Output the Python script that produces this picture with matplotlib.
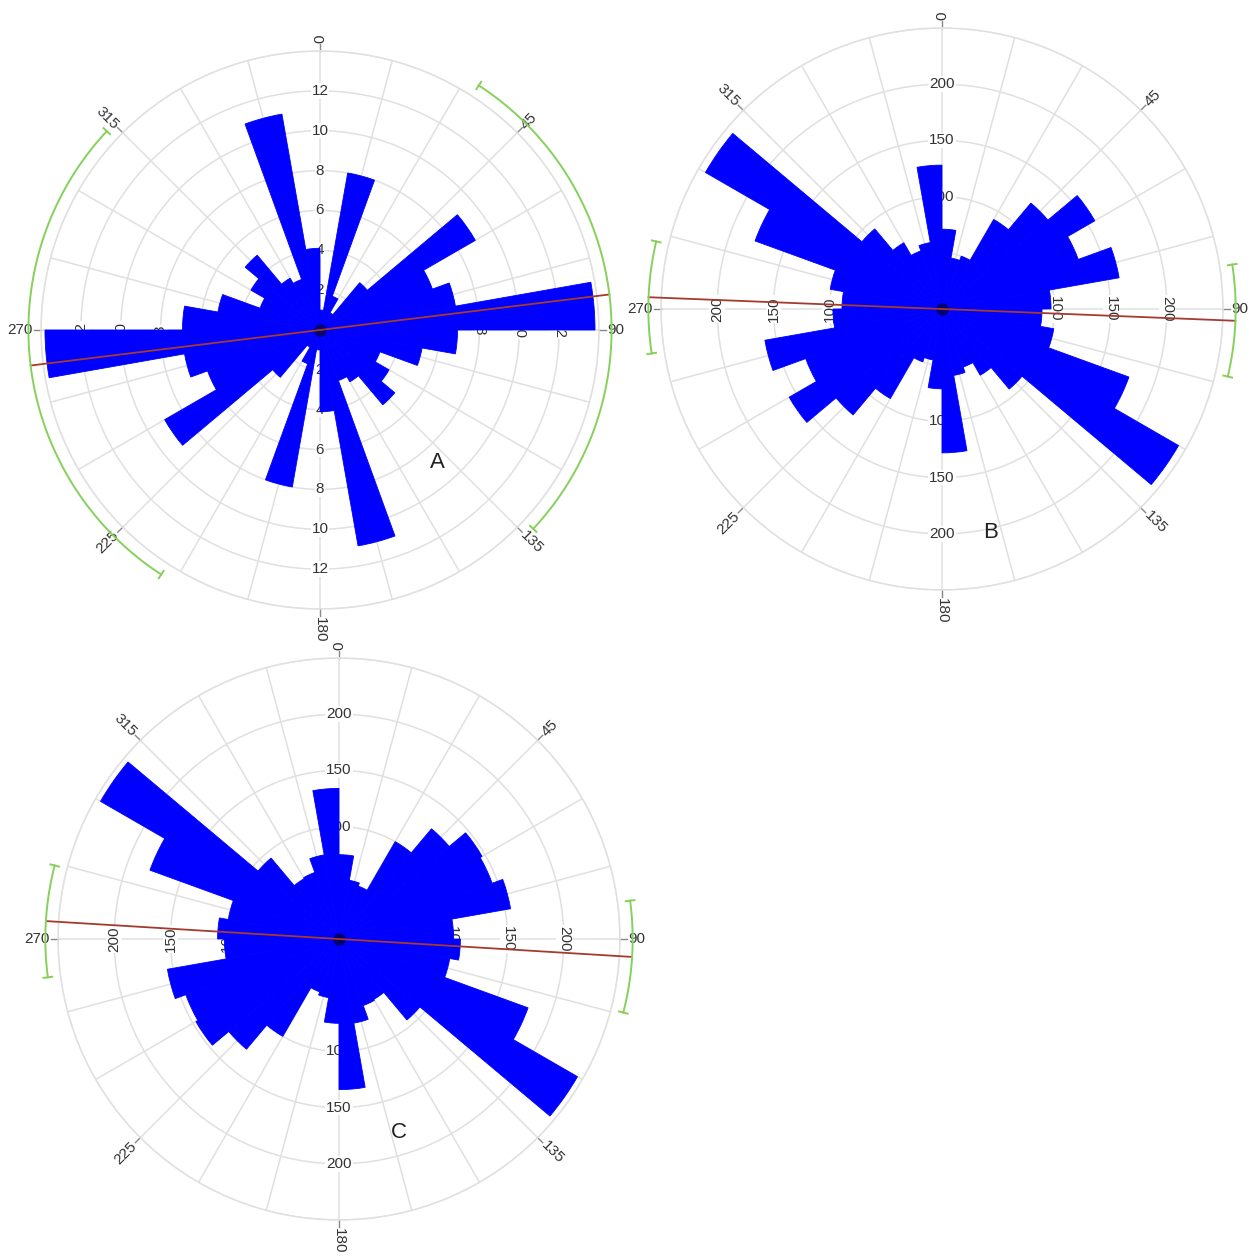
import numpy as np
import matplotlib
matplotlib.use('Agg')
import matplotlib.pyplot as plt

plt.rcParams['font.family'] = ['Liberation Sans', 'DejaVu Sans']

# 10 degree bins from 0 to 180; the roses are bidirectional so 180-360 mirrors them
bin_start = np.arange(0, 180, 10)
counts_a = [1.0, 8.0, 1.8, 1.0, 3.1, 9.0, 6.0, 6.9, 13.8, 6.9, 5.2, 3.2, 4.0, 4.9, 3.0, 2.7, 11.0, 4.1]
counts_b = [71, 46, 50, 92, 123, 157, 129, 160, 97, 89, 101, 177, 243, 93, 68, 55, 60, 128]
counts_c = [75, 53, 50, 100, 128, 147, 145, 155, 102, 108, 100, 179, 245, 94, 62, 63, 76, 134]

# mean direction and confidence half-width (degrees)
mean_a, ci_a = 83, 50
mean_b, ci_b = 92.3, 11
mean_c, ci_c = 93.5, 11

rings_a = [2, 4, 6, 8, 10, 12, 14]
rings_b = [50, 100, 150, 200, 250]
angle_labels = [0, 45, 90, 135, 180, 225, 270, 315]

W, H = 1257, 1256
fig = plt.figure(figsize=(W / 100, H / 100), dpi=100)

GRID = '#e0e0e0'
BLUE = '#0000ff'
RED = '#a53a2e'
GREEN = '#86d05c'


def rose(cx, cy, rpx, counts, rings, mean, ci, letter, letter_xy):
    ax = fig.add_axes([(cx - rpx) / W, (H - cy - rpx) / H, 2 * rpx / W, 2 * rpx / H],
                      projection='polar')
    ax.set_theta_zero_location('N')
    ax.set_theta_direction(-1)
    rmax = rings[-1]
    ax.set_ylim(0, rmax)
    ax.set_axisbelow(True)
    ax.set_thetagrids(np.arange(0, 360, 15), labels=[''] * 24)
    ax.set_rgrids(rings, labels=[''] * len(rings))
    ax.grid(color=GRID, lw=1.1)
    ax.spines['polar'].set_color(GRID)
    ax.spines['polar'].set_linewidth(1.1)
    ax.tick_params(length=0)

    vals = list(counts) + list(counts)
    centers = np.deg2rad(np.arange(0, 360, 10) + 5)
    ax.bar(centers, vals, width=np.deg2rad(10), color=BLUE, edgecolor=BLUE,
           linewidth=0.6, zorder=2)
    ax.plot([0], [0], 'o', color='#000040', mec='none', ms=9, alpha=0.75, zorder=2.5)

    # ring labels along the four axes, sitting under the bars
    for r in rings[:-1]:
        for th, rot in [(0, 0), (90, -90), (180, 0), (270, 90)]:
            ax.text(np.deg2rad(th), r, str(r), rotation=rot, ha='center', va='center',
                    fontsize=11, color='#333333', zorder=1,
                    bbox=dict(facecolor='white', edgecolor='none', pad=0.5))

    # compass labels with small ticks
    for a in angle_labels:
        th = np.deg2rad(a)
        ax.plot([th, th], [rmax, rmax * 1.025], color='#888888', lw=1, clip_on=False)
        if a <= 180:
            rot, ha = 90 - a, 'left'
        else:
            rot, ha = 270 - a, 'right'
        ax.text(th, rmax * 1.03, str(a), rotation=rot, rotation_mode='anchor',
                ha=ha, va='center', fontsize=11, color='#333333')

    # mean direction line
    R = rmax * 1.045
    m = np.deg2rad(mean)
    ax.plot([m, m, m + np.pi], [R, 0, R], color=RED, lw=1.3, zorder=3, clip_on=False)

    # confidence arcs
    for base in (mean, mean + 180):
        t = np.deg2rad(np.linspace(base - ci, base + ci, 100))
        ax.plot(t, np.full_like(t, R), color=GREEN, lw=1.4, zorder=3, clip_on=False)
        for e in (base - ci, base + ci):
            ax.plot([np.deg2rad(e)] * 2, [R * 0.985, R * 1.015], color=GREEN, lw=1.4,
                    zorder=3, clip_on=False)

    fig.text(letter_xy[0] / W, 1 - letter_xy[1] / H, letter, fontsize=16,
             ha='center', va='center', color='#222222')
    return ax


rose(320, 330, 279, counts_a, rings_a, mean_a, ci_a, 'A', (437, 463))
rose(942, 309, 281, counts_b, rings_b, mean_b, ci_b, 'B', (991, 533))
rose(339, 939, 281, counts_c, rings_b, mean_c, ci_c, 'C', (399, 1133))

fig.savefig('out.png', dpi=100, facecolor='white')
